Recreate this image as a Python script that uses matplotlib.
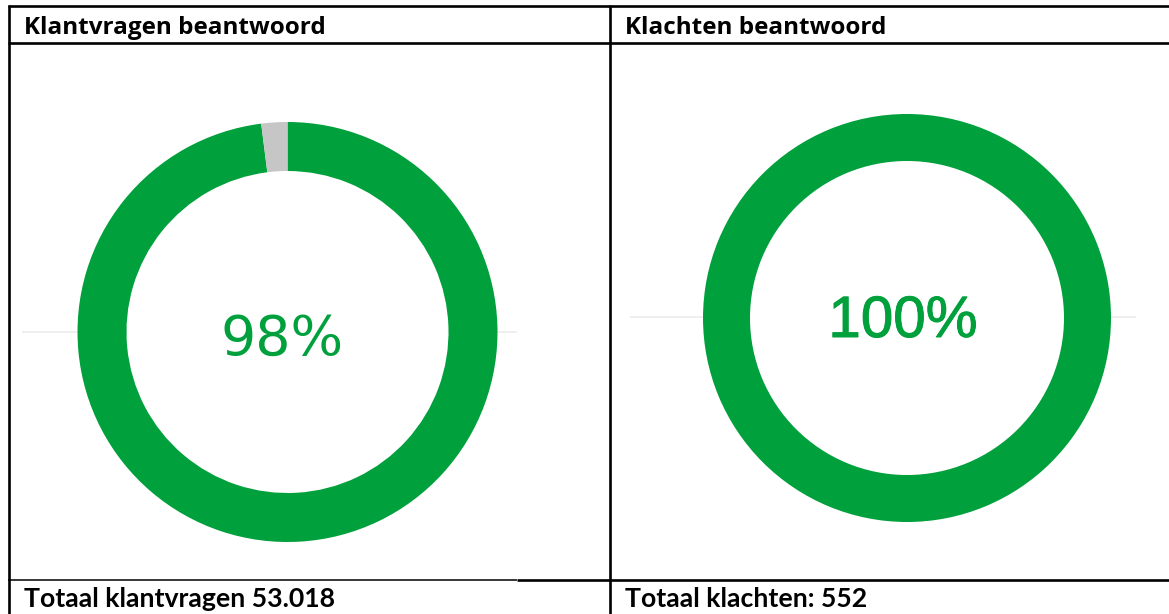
import matplotlib
matplotlib.use("Agg")
import matplotlib.pyplot as plt
import matplotlib.patheffects as pe
from matplotlib.lines import Line2D
from matplotlib.patches import Circle

# ---- data ----
titles = ["Klantvragen beantwoord", "Klachten beantwoord"]
answered_pct = [98, 100]
unanswered_pct = [2, 0]
center_labels = ["98%", "100%"]
footer_labels = ["Totaal klantvragen 53.018", "Totaal klachten: 552"]

GREEN = "#00a03c"
GRAY = "#c6c6c6"
W, H = 1169, 614
fig = plt.figure(figsize=(W / 100, H / 100), dpi=100)
fig.patch.set_facecolor("white")


def fx(x):
    return x / W


def fy(y):
    return 1 - y / H


def hline(y, x0, x1, lw=1.9, color="black", z=5):
    fig.add_artist(Line2D([fx(x0), fx(x1)], [fy(y), fy(y)], transform=fig.transFigure,
                          color=color, lw=lw, zorder=z, solid_capstyle="butt"))


def vline(x, y0, y1, lw=1.9, color="black", z=5):
    fig.add_artist(Line2D([fx(x), fx(x)], [fy(y0), fy(y1)], transform=fig.transFigure,
                          color=color, lw=lw, zorder=z, solid_capstyle="butt"))


# table grid
hline(6, 8, W)
hline(43, 8, W)
hline(580.3, 8, 517, lw=1.1)
hline(579.6, 517, W)
vline(9, 5, H)
vline(610, 5, H)

# faint guide lines behind donuts
hline(332, 22, 517, lw=1.1, color="#ebebeb", z=0)
hline(317, 630, 1136, lw=1.1, color="#ebebeb", z=0)

# donuts: (cx, cy, radius, ring width, text baseline y, text x offset)
geoms = [(287.5, 332, 210, 49, 355, -5), (907, 318, 204, 47, 337, -4)]
text_fonts = [["DejaVu Sans"], ["Liberation Sans"]]
text_sizes = [40, 42]
text_strokes = [0.0, 0.7]
for i, (cx, cy, r, wr, base, dx) in enumerate(geoms):
    ax = fig.add_axes([fx(cx - r), fy(cy + r), 2 * r / W, 2 * r / H])
    ax.set_facecolor("none")
    ax.add_patch(Circle((0, 0), 1 - wr / r + 0.01, facecolor="white", edgecolor="none", zorder=0))
    vals = [answered_pct[i], unanswered_pct[i]]
    cols = [GREEN, GRAY]
    vv = [v for v in vals if v > 0]
    cc = [c for v, c in zip(vals, cols) if v > 0]
    ax.pie(vv, colors=cc, startangle=90, counterclock=False, radius=1,
           wedgeprops=dict(width=wr / r, linewidth=0))
    ax.set_xlim(-1, 1)
    ax.set_ylim(-1, 1)
    ax.set_aspect("equal")
    ax.axis("off")
    t = ax.text(dx / r, (cy - base) / r, center_labels[i], ha="center", va="baseline",
                color=GREEN, fontsize=text_sizes[i], family=text_fonts[i])
    if text_strokes[i] > 0:
        t.set_path_effects([pe.withStroke(linewidth=text_strokes[i], foreground=GREEN)])

# headers and footers
for i, x0 in enumerate([24, 625]):
    fig.text(fx(x0), fy(34), titles[i], ha="left", va="baseline", fontsize=17.5,
             fontweight="bold", family=["Open Sans", "DejaVu Sans"], color="black")
    fig.text(fx(x0), fy(607), footer_labels[i], ha="left", va="baseline", fontsize=19.2,
             fontweight="bold", family=["Lato", "DejaVu Sans"], color="black")

fig.savefig("out.png", dpi=100, facecolor="white")
